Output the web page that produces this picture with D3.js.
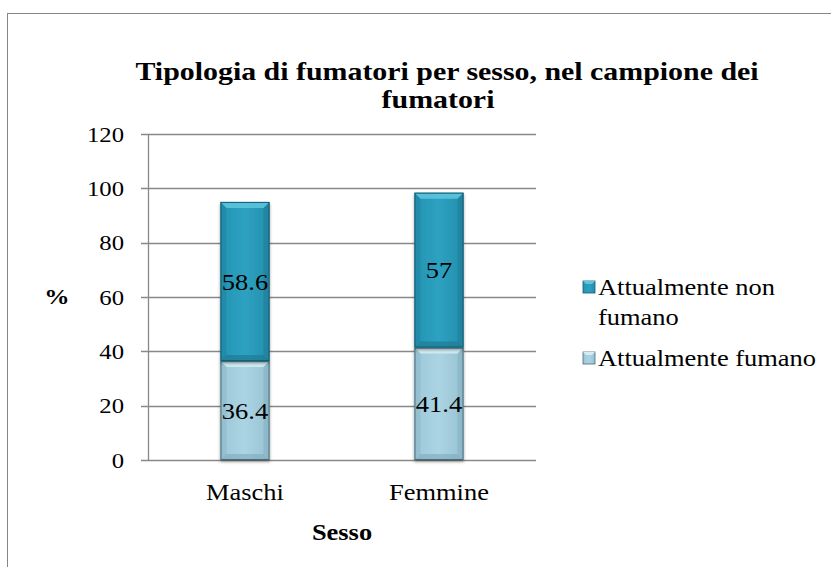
<!DOCTYPE html>
<html>
<head>
<meta charset="utf-8">
<script src="https://cdn.jsdelivr.net/npm/d3@7"></script>
<style>
  body { margin: 0; background: #fff; }
  text { font-family: "Liberation Serif", "Times New Roman", serif; fill: #000; }
</style>
</head>
<body>
<script>
const categories = ["Maschi", "Femmine"];
const seriesNames = ["Attualmente fumano", "Attualmente non fumano"];
const fumano = [36.4, 41.4];
const nonFumano = [58.6, 57];
const yTicks = [0, 20, 40, 60, 80, 100, 120];

const width = 831, height = 567;
const margin = { left: 148, right: 295, top: 134, bottom: 107 };
const sx = 1.15; // the original text is a bit wide

const svg = d3.select("body").append("svg")
  .attr("width", width).attr("height", height);

// put a text at (px, py), stretched horizontally around its anchor
function label(sel, px, py) {
  return sel.attr("transform", `translate(${px},${py}) scale(${sx},1)`);
}

// outer chart border
svg.append("rect")
  .attr("x", 7.5).attr("y", 13.5)
  .attr("width", width).attr("height", height)
  .attr("fill", "none").attr("stroke", "#868686").attr("stroke-width", 1);

const x = d3.scaleBand().domain(categories)
  .range([margin.left, width - margin.right])
  .paddingInner(0.747).paddingOuter(0.3735);
const y = d3.scaleLinear().domain([0, 120])
  .range([height - margin.bottom, margin.top]);

const defs = svg.append("defs");
function grad(id, stops) {
  const g = defs.append("linearGradient").attr("id", id)
    .attr("x1", 0).attr("y1", 0).attr("x2", 1).attr("y2", 0);
  stops.forEach(([o, c]) => g.append("stop").attr("offset", o).attr("stop-color", c));
}
grad("gTop", [[0, "#2494b4"], [0.5, "#2ea1c0"], [1, "#238fae"]]);
grad("gBot", [[0, "#9dc8d9"], [0.5, "#abd4e3"], [1, "#97c2d2"]]);
const filt = defs.append("filter").attr("id", "shadow")
  .attr("x", "-20%").attr("y", "-20%").attr("width", "140%").attr("height", "140%");
filt.append("feDropShadow").attr("dx", 0).attr("dy", 2).attr("stdDeviation", 1.5)
  .attr("flood-color", "#000").attr("flood-opacity", 0.35);

// gridlines and axis
svg.append("g").selectAll("line").data(yTicks).enter().append("line")
  .attr("x1", margin.left - 7).attr("x2", width - margin.right)
  .attr("y1", d => Math.round(y(d)) + 0.5).attr("y2", d => Math.round(y(d)) + 0.5)
  .attr("stroke", "#888").attr("stroke-width", 1.3);
svg.append("line")
  .attr("x1", margin.left + 0.5).attr("x2", margin.left + 0.5)
  .attr("y1", y(120)).attr("y2", y(0))
  .attr("stroke", "#888").attr("stroke-width", 1.3);

svg.append("g").selectAll("text").data(yTicks).enter().append("text")
  .each(function (d) { label(d3.select(this), 124, y(d) + 7.5); })
  .attr("text-anchor", "end").attr("font-size", 21.5)
  .text(d => d);

// stacked data
const rows = categories.map((c, i) => ({ cat: c, fumano: fumano[i], nonFumano: nonFumano[i] }));
const stack = d3.stack().keys(["fumano", "nonFumano"])(rows);
const fills = ["url(#gBot)", "url(#gTop)"];
const edge = [
  { light: "#d4ecf4", dark: "#7eaabb", outline: "#4a6b78" },
  { light: "#5cc4de", dark: "#1d7590", outline: "#185a6e" }
];

const bw = x.bandwidth();
const b = 6;
stack.forEach((layer, li) => {
  const g = svg.append("g");
  layer.forEach(d => {
    const x0 = x(d.data.cat), y0 = y(d[1]), h = y(d[0]) - y(d[1]);
    const seg = g.append("g").attr("filter", "url(#shadow)");
    seg.append("rect").attr("x", x0).attr("y", y0).attr("width", bw).attr("height", h)
      .attr("fill", fills[li]);
    // bevel: top highlight
    seg.append("path")
      .attr("d", `M${x0},${y0}L${x0 + bw},${y0}L${x0 + bw - b},${y0 + b}L${x0 + b},${y0 + b}Z`)
      .attr("fill", edge[li].light).attr("opacity", 0.9);
    // bottom shade
    seg.append("path")
      .attr("d", `M${x0},${y0 + h}L${x0 + bw},${y0 + h}L${x0 + bw - b},${y0 + h - b}L${x0 + b},${y0 + h - b}Z`)
      .attr("fill", edge[li].dark).attr("opacity", 0.6);
    // sides
    seg.append("path")
      .attr("d", `M${x0},${y0}L${x0 + b},${y0 + b}L${x0 + b},${y0 + h - b}L${x0},${y0 + h}Z`)
      .attr("fill", edge[li].dark).attr("opacity", 0.3);
    seg.append("path")
      .attr("d", `M${x0 + bw},${y0}L${x0 + bw - b},${y0 + b}L${x0 + bw - b},${y0 + h - b}L${x0 + bw},${y0 + h}Z`)
      .attr("fill", edge[li].dark).attr("opacity", 0.45);
    seg.append("rect").attr("x", x0 + 0.5).attr("y", y0 + 0.5)
      .attr("width", bw - 1).attr("height", h - 1)
      .attr("fill", "none").attr("stroke", edge[li].outline).attr("stroke-width", 1);
  });
});

// data labels
stack.forEach(layer => {
  svg.append("g").selectAll("text").data(layer).enter().append("text")
    .each(function (d) {
      label(d3.select(this), x(d.data.cat) + bw / 2, (y(d[0]) + y(d[1])) / 2 + 8);
    })
    .attr("text-anchor", "middle").attr("font-size", 23)
    .text(d => d3.format("~g")(+(d[1] - d[0]).toFixed(1)));
});

// category labels
svg.append("g").selectAll("text").data(categories).enter().append("text")
  .each(function (d) { label(d3.select(this), x(d) + bw / 2, 500); })
  .attr("text-anchor", "middle").attr("font-size", 23)
  .text(d => d);

// axis titles
label(svg.append("text"), (margin.left + width - margin.right) / 2, 540)
  .attr("text-anchor", "middle").attr("font-size", 23).attr("font-weight", "bold")
  .text("Sesso");
label(svg.append("text"), 57, 304)
  .attr("text-anchor", "middle").attr("font-size", 22).attr("font-weight", "bold")
  .text("%");

// title
label(svg.append("text"), 447, 80).attr("text-anchor", "middle")
  .attr("font-size", 26).attr("font-weight", "bold")
  .text("Tipologia di fumatori per sesso, nel campione dei");
label(svg.append("text"), 438, 108).attr("text-anchor", "middle")
  .attr("font-size", 26).attr("font-weight", "bold")
  .text("fumatori");

// legend
const legendItems = [
  { lines: ["Attualmente non", "fumano"], layer: 1, y: 287 },
  { lines: ["Attualmente fumano"], layer: 0, y: 358 }
];
const lg = svg.append("g");
legendItems.forEach(it => {
  lg.append("rect").attr("x", 583).attr("y", it.y - 6).attr("width", 12).attr("height", 12)
    .attr("fill", fills[it.layer]).attr("stroke", edge[it.layer].outline).attr("stroke-width", 0.8);
  lg.append("path")
    .attr("d", `M583,${it.y - 6}L595,${it.y - 6}L592,${it.y - 3}L586,${it.y - 3}Z`)
    .attr("fill", edge[it.layer].light);
  it.lines.forEach((l, i) => {
    label(lg.append("text"), 598, it.y + 8 + i * 30).attr("font-size", 23).text(l);
  });
});
</script>
</body>
</html>
